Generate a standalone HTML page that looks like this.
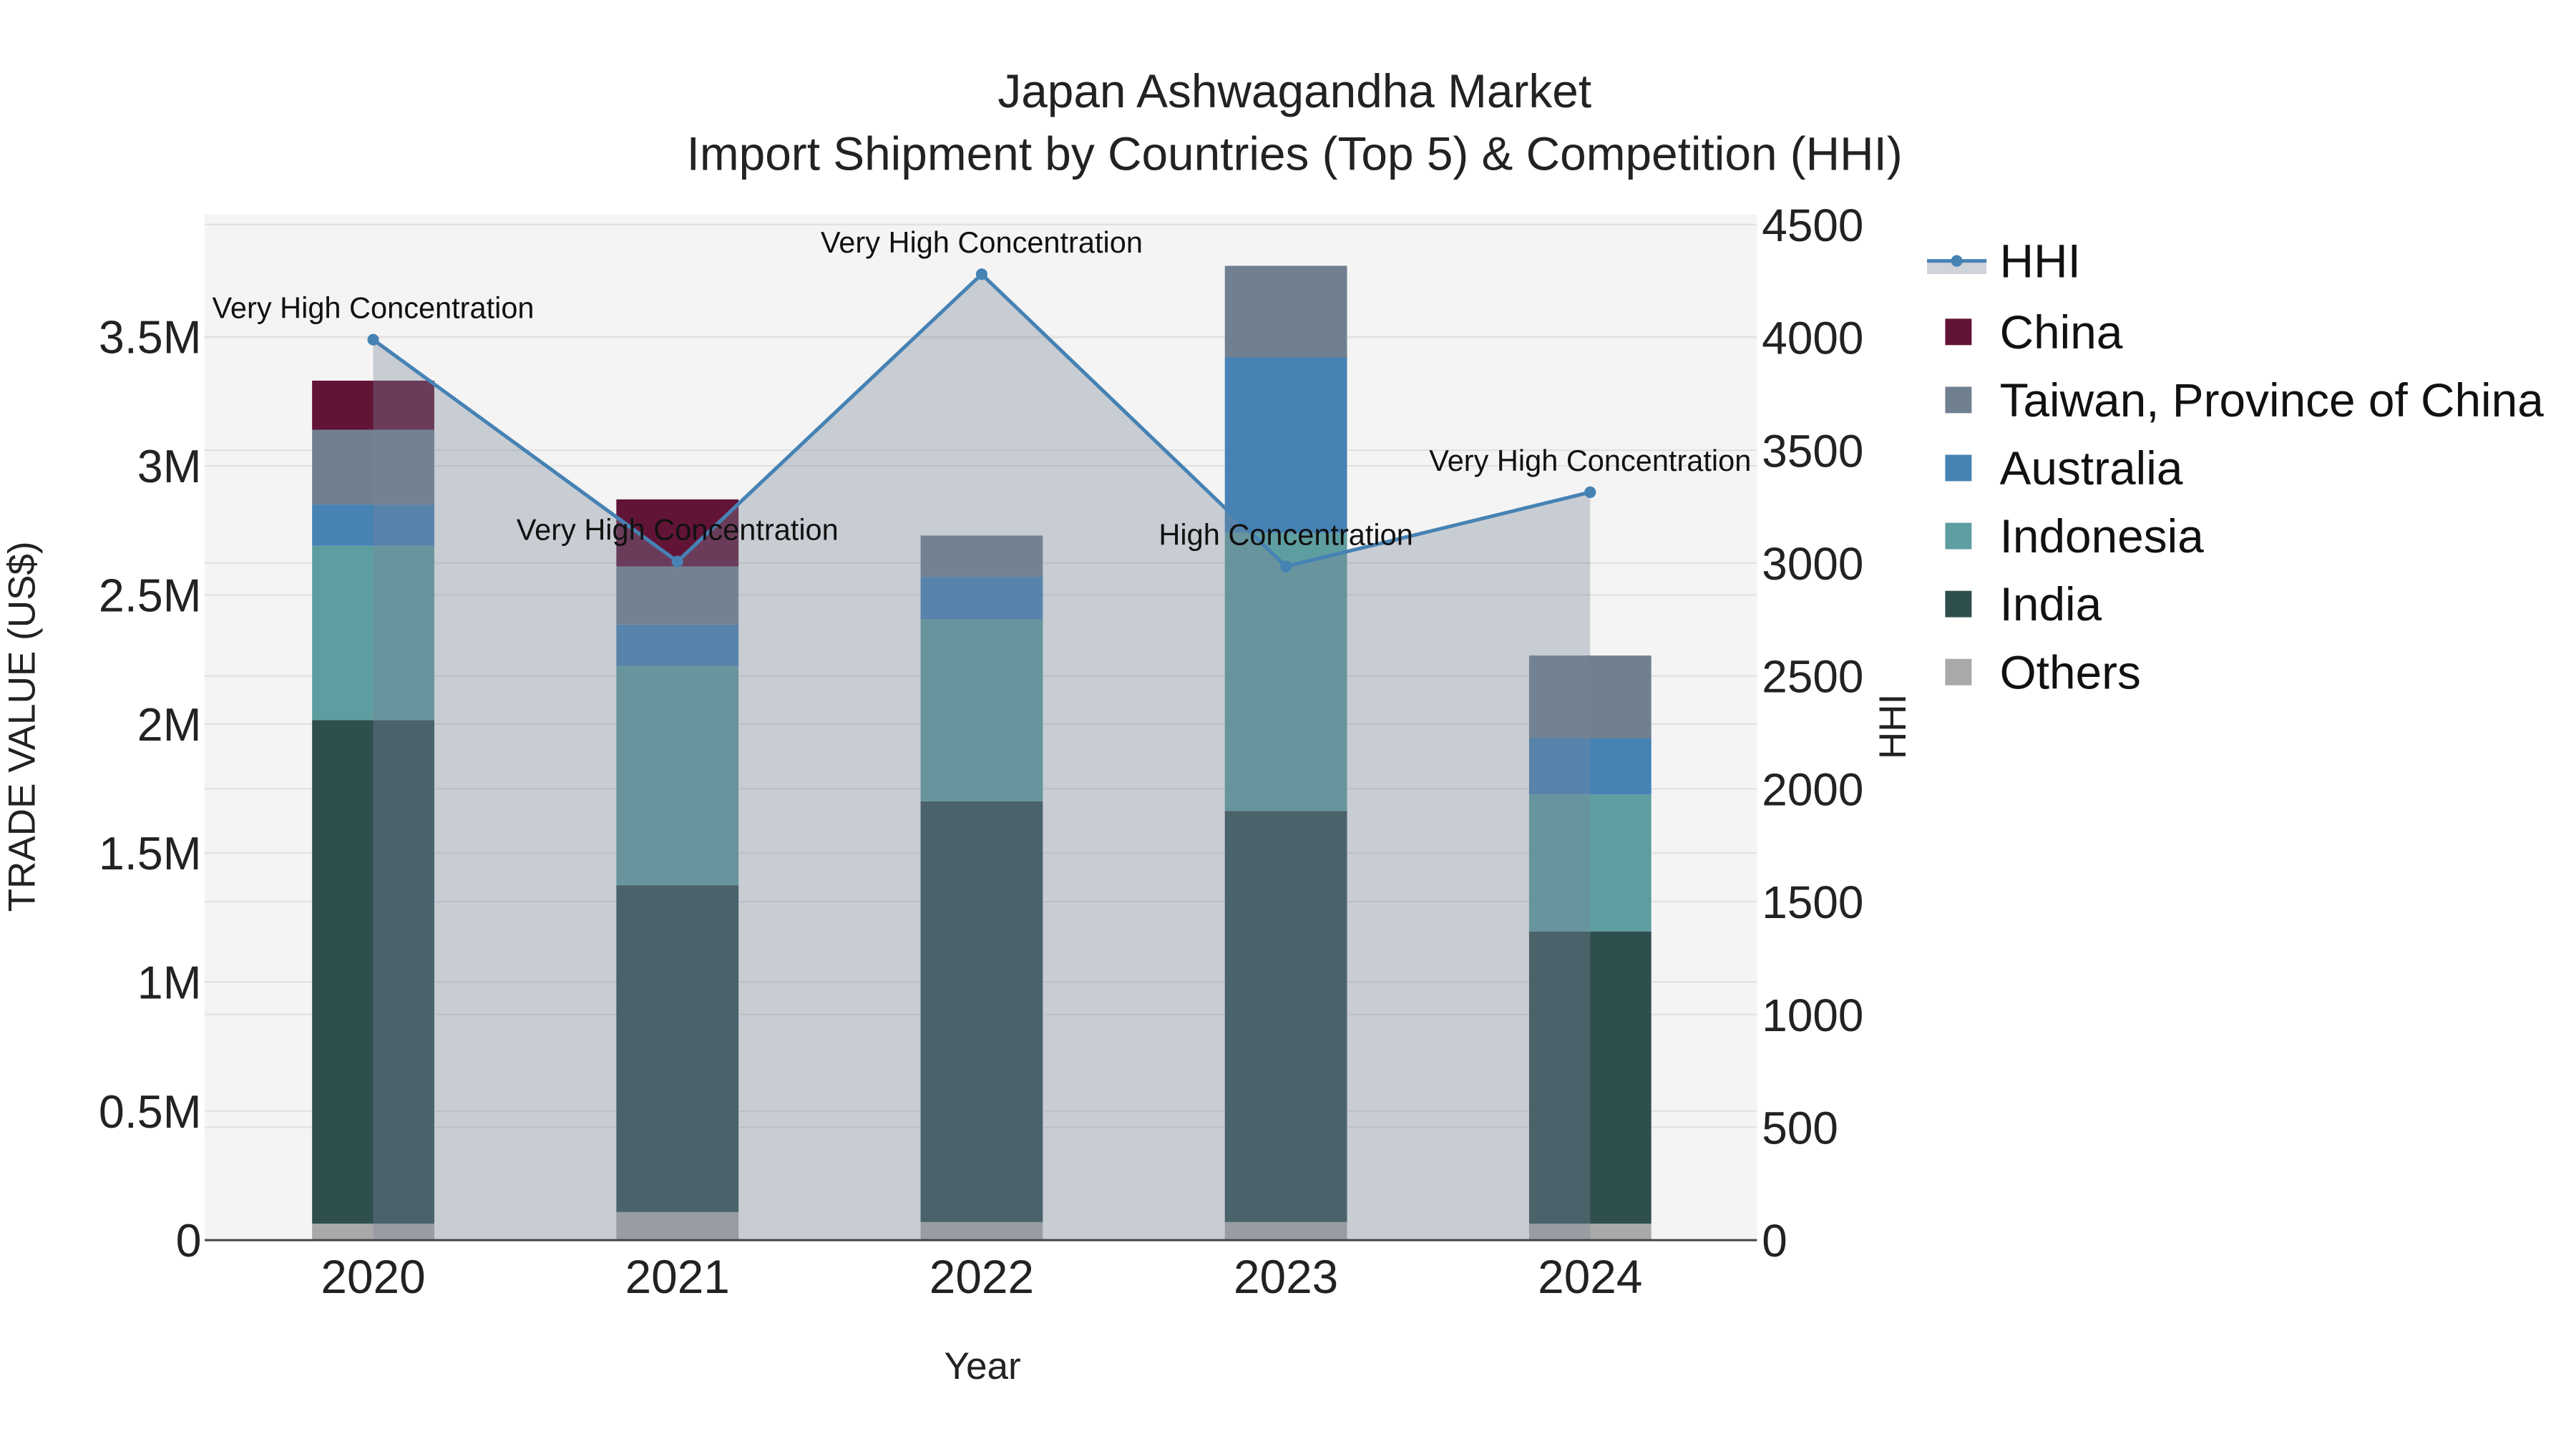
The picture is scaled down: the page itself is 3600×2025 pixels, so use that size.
<!DOCTYPE html>
<html><head><meta charset="utf-8"><style>
html,body{margin:0;padding:0;background:#fff;}
svg{display:block;font-family:"Liberation Sans",Arial,sans-serif;}
</style></head><body>
<svg id="chart" width="3600" height="2025" viewBox="0 0 1560 877.5">
<rect x="0" y="0" width="1560" height="877.5" fill="#fff"/>
<rect x="124" y="130" width="940" height="621" fill="#f4f4f4"/>
<g id="grid"></g><g id="bars"></g><g id="hhi"></g><g id="axes"></g>
<text x="784" y="65" text-anchor="middle" font-size="28.5" fill="#222">Japan Ashwagandha Market</text>
<text x="784" y="103" text-anchor="middle" font-size="28.5" fill="#222">Import Shipment by Countries (Top 5) &amp; Competition (HHI)</text>
<text x="595" y="835" text-anchor="middle" font-size="23" fill="#222">Year</text>
<text transform="translate(21,440) rotate(-90)" text-anchor="middle" font-size="23" fill="#222">TRADE VALUE (US$)</text>
<text transform="translate(1154,440) rotate(-90)" text-anchor="middle" font-size="23" fill="#222">HHI</text>
<g id="legend"></g>
</svg>
<script>
const years = ['2020','2021','2022','2023','2024'];
const seriesNames = ['Others','India','Indonesia','Australia','Taiwan, Province of China','China'];
const others = [0.064, 0.109, 0.07, 0.07, 0.064];
const india = [1.951, 1.266, 1.63, 1.593, 1.132];
const indonesia = [0.675, 0.85, 0.705, 1.077, 0.531];
const australia = [0.16, 0.16, 0.165, 0.68, 0.218];
const taiwan = [0.29, 0.225, 0.16, 0.355, 0.32];
const china = [0.19, 0.26, 0, 0, 0];
const hhi = [3990, 3007, 4280, 2985, 3314];
const hhiLabels = ['Very High Concentration','Very High Concentration','Very High Concentration','High Concentration','Very High Concentration'];
const yTicks = [0, 0.5, 1, 1.5, 2, 2.5, 3, 3.5];
const yTickLabels = ['0','0.5M','1M','1.5M','2M','2.5M','3M','3.5M'];
const y2Ticks = [0, 500, 1000, 1500, 2000, 2500, 3000, 3500, 4000, 4500];

const colors = ['#a9a9a9','#2f4f4f','#5f9ea0','#4682b4','#708090','#621436'];
const NS='http://www.w3.org/2000/svg';
const X0=124, X1=1064, Y0=751;
const xs = i => 226 + i*184.25;
const ys = v => Y0 - v*156.3;
const y2s = v => Y0 - v*0.13667;
function mk(tag, attrs, parent){const e=document.createElementNS(NS,tag);for(const k in attrs)e.setAttribute(k,attrs[k]);parent.appendChild(e);return e;}
const grid=document.getElementById('grid'), bars=document.getElementById('bars'), hg=document.getElementById('hhi'), axes=document.getElementById('axes'), lg=document.getElementById('legend');

yTicks.forEach((t,i)=>{
  if(t>0){const l=mk('line',{x1:X0,x2:X1,y1:ys(t),y2:ys(t),stroke:'#e2e2e2','stroke-width':1},grid);
  
  }
  const tx=mk('text',{x:X0-2,y:ys(t)+10,'text-anchor':'end','font-size':28,fill:'#222'},axes);
  tx.textContent=yTickLabels[i];
  
  
});
y2Ticks.forEach(t=>{
  if(t>0){const l=mk('line',{x1:X0,x2:X1,y1:y2s(t),y2:y2s(t),stroke:'#e2e2e2','stroke-width':1},grid);
  
  }
  const tx=mk('text',{x:X1+3,y:y2s(t)+10,'font-size':27.7,fill:'#222'},axes);
  tx.textContent=String(t);
  
  
});
const zl=mk('line',{x1:X0,x2:X1,y1:Y0,y2:Y0,stroke:'#444','stroke-width':1.3},axes);


years.forEach((yr,i)=>{
  const tx=mk('text',{x:xs(i),y:783,'text-anchor':'middle','font-size':28.5,fill:'#222'},axes);
  tx.textContent=yr;
  
  
});

const series=[others,india,indonesia,australia,taiwan,china];
years.forEach((yr,i)=>{
  let base=0;
  series.forEach((s,k)=>{
    const v=s[i]; if(v<=0){return;}
    const r=mk('rect',{x:xs(i)-37,y:ys(base+v),width:74,height:ys(base)-ys(base+v),fill:colors[k]},bars);
    
    
    base+=v;
  });
});

let d='M'+xs(0)+','+Y0;
hhi.forEach((v,i)=>{d+=' L'+xs(i)+','+y2s(v);});
d+=' L'+xs(hhi.length-1)+','+Y0+' Z';
const area=mk('path',{d:d,fill:'rgba(122,133,152,0.36)'},hg);


const line=mk('polyline',{points:hhi.map((v,i)=>xs(i)+','+y2s(v)).join(' '),fill:'none',stroke:'#4682b4','stroke-width':2.2},hg);


hhi.forEach((v,i)=>{
  const c=mk('circle',{cx:xs(i),cy:y2s(v),r:3.5,fill:'#4682b4'},hg);
  
  
  const t=mk('text',{x:xs(i),y:y2s(v)-13,'text-anchor':'middle','font-size':18,fill:'#111'},hg);
  t.textContent=hhiLabels[i];
  
  
});

const lr=mk('rect',{x:1167,y:158,width:36,height:8,fill:'rgba(122,133,152,0.36)'},lg);


const ll=mk('line',{x1:1167,x2:1203,y1:158,y2:158,stroke:'#4682b4','stroke-width':2.2},lg);


const lc=mk('circle',{cx:1185,cy:158,r:3.5,fill:'#4682b4'},lg);


const lt=mk('text',{x:1211,y:168,'font-size':28.5,fill:'#111'},lg);
lt.textContent='HHI';


const legOrder=[5,4,3,2,1,0];
legOrder.forEach((k,j)=>{
  const y=201+j*41.2;
  const r=mk('rect',{x:1178,y:y-8,width:16,height:16,fill:colors[k]},lg);
  
  
  const t=mk('text',{x:1211,y:y+10,'font-size':28.5,fill:'#111'},lg);
  t.textContent=seriesNames[k];
  
  
});
</script>
</body></html>
